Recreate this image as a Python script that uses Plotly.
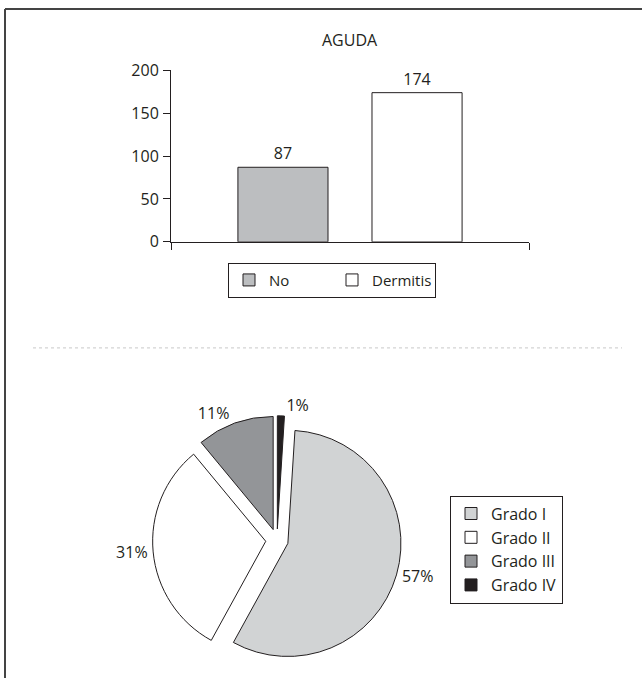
import plotly.graph_objects as go

# ---- data ----
bar_category = ["AGUDA"]
bar_series = ["No", "Dermitis"]
bar_values = [87, 174]
bar_colors = ["#bcbec0", "#ffffff"]

pie_labels = ["Grado I", "Grado II", "Grado III", "Grado IV"]
pie_values = [57, 31, 11, 1]
pie_colors = ["#d1d3d4", "#ffffff", "#939598", "#231f20"]

y_ticks = [0, 50, 100, 150, 200]

INK = "#231f20"
FONT = "Open Sans"
FS = 16

fig = go.Figure()

for name, val, col in zip(bar_series, bar_values, bar_colors):
    fig.add_trace(go.Bar(
        x=bar_category, y=[val], name=name,
        marker=dict(color=col, line=dict(color=INK, width=1)),
        text=[val], textposition="outside",
        textfont=dict(size=FS, color=INK, family=FONT),
        cliponaxis=False, legend="legend",
    ))

fig.add_trace(go.Pie(
    labels=pie_labels, values=pie_values, sort=False,
    direction="clockwise", rotation=360 * pie_values[-1] / sum(pie_values),
    pull=[0.1] * len(pie_values),
    marker=dict(colors=pie_colors, line=dict(color=INK, width=1)),
    textinfo="percent", textposition="outside",
    textfont=dict(size=FS, color=INK, family=FONT),
    domain=dict(x=[151.5 / 642, 402.5 / 642], y=[1 - 670.5 / 684, 1 - 419.5 / 684]),
    legend="legend2",
))

fig.update_layout(
    width=642, height=684,
    margin=dict(l=0, r=0, t=0, b=0),
    paper_bgcolor="white", plot_bgcolor="white",
    font=dict(family=FONT, size=FS, color=INK),
    barmode="group", bargap=0.251, bargroupgap=0.328,
    xaxis=dict(
        domain=[171 / 642, 529 / 642], type="category", range=[-0.5, 0.5],
        showticklabels=False, ticks="outside", tickson="boundaries", ticklen=7,
        tickcolor=INK, showline=True, linecolor=INK, linewidth=1, showgrid=False,
        zeroline=False, fixedrange=True, automargin=False,
    ),
    yaxis=dict(
        domain=[1 - 244 / 684, 1 - 71 / 684], range=[0, 200], tickvals=y_ticks,
        ticks="outside", ticklen=7, tickcolor=INK, showline=True, linecolor=INK,
        linewidth=1, showgrid=False, zeroline=False, automargin=False,
        tickfont=dict(size=FS, color=INK), ticklabelstandoff=1,
    ),
    legend=dict(
        orientation="h", x=228 / 642, y=1 - 265 / 684, xanchor="left", yanchor="top",
        bordercolor=INK, borderwidth=1, font=dict(size=15, color=INK),
        entrywidth=58, itemwidth=30, bgcolor="white",
    ),
    legend2=dict(
        orientation="v", x=450 / 642, y=1 - 500 / 684, xanchor="left", yanchor="top",
        bordercolor=INK, borderwidth=1, font=dict(size=FS, color=INK),
        itemwidth=30, bgcolor="white",
    ),
    showlegend=True,
    annotations=[dict(
        text=bar_category[0], x=350 / 642, y=1 - 40 / 684, xref="paper", yref="paper",
        showarrow=False, font=dict(size=FS, color=INK), xanchor="center", yanchor="middle",
    )],
    shapes=[
        dict(type="line", xref="paper", yref="paper", x0=5 / 642, x1=1.0,
             y0=1 - 9 / 684, y1=1 - 9 / 684, line=dict(color="#444", width=2)),
        dict(type="line", xref="paper", yref="paper", x0=5 / 642, x1=5 / 642,
             y0=0, y1=1 - 9 / 684, line=dict(color="#444", width=2)),
        dict(type="line", xref="paper", yref="paper", x0=33 / 642, x1=622 / 642,
             y0=1 - 351 / 684, y1=1 - 351 / 684, line=dict(color="#c8c8c8", width=1, dash="dot")),
    ],
)

fig.write_html("out.html")
